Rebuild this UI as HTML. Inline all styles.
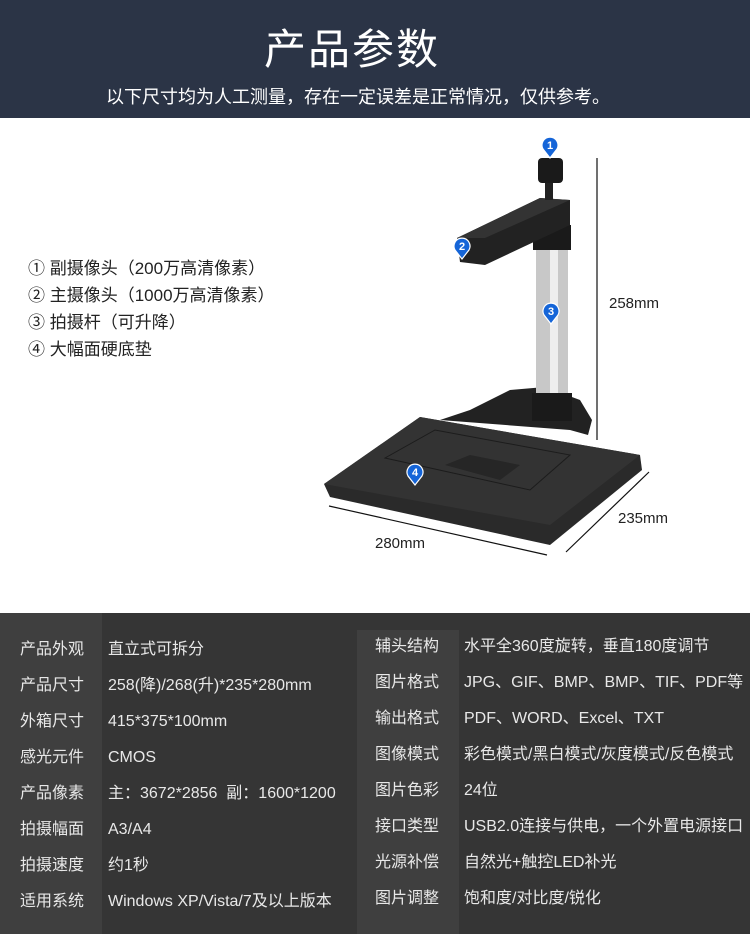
<!DOCTYPE html>
<html><head><meta charset="utf-8"><style>
body{margin:0;width:750px;height:934px;overflow:hidden;background:#fff;font-family:"Liberation Sans","Noto Sans CJK SC",sans-serif;position:relative}
.hd{position:absolute;left:0;top:0;width:750px;height:118px;background:#2b3446;color:#fff}
.t{position:absolute;left:0;width:704px;text-align:center;top:16px;font-size:42px;letter-spacing:2px}
.s{position:absolute;left:0;width:716px;text-align:center;top:83px;font-size:18px}
.f{position:absolute;left:28px;font-size:17px;color:#222}
.dim{position:absolute;font-size:15px;color:#222}
.tb{position:absolute;left:0;top:613px;width:750px;height:321px;background:#353535}
.c{position:absolute;background:#3f3f3f}
.r{position:absolute;font-size:16px;color:#e8e8e8;white-space:nowrap;line-height:20px;height:20px}
</style></head><body>
<div class="hd"><div class="t">产品参数</div><div class="s">以下尺寸均为人工测量，存在一定误差是正常情况，仅供参考。</div></div>
<div class="f" style="top:254px">① 副摄像头（200万高清像素）</div>
<div class="f" style="top:281px">② 主摄像头（1000万高清像素）</div>
<div class="f" style="top:308px">③ 拍摄杆（可升降）</div>
<div class="f" style="top:335px">④ 大幅面硬底垫</div>
<svg style="position:absolute;left:0;top:0" width="750" height="612">
<line x1="597" y1="158" x2="597" y2="440" stroke="#111" stroke-width="1.2"/>
<line x1="329" y1="506" x2="547" y2="555" stroke="#111" stroke-width="1.2"/>
<line x1="566" y1="552" x2="649" y2="472" stroke="#111" stroke-width="1.2"/>
<path d="M440,420 L470,410 L510,390 L545,387 L580,400 L592,420 L588,435 L570,430 Z" fill="#222"/>
<path d="M324,484 L420,417 L640,455 L642,470 L550,545 L330,497 Z" fill="#2a2a2a"/>
<path d="M324,484 L420,417 L640,455 L550,525 Z" fill="#333"/>
<path d="M385,458 L435,430 L570,455 L530,490 Z" fill="none" stroke="#1c1c1c"/>
<path d="M445,465 L470,455 L520,465 L500,480 Z" fill="#262626"/>
<rect x="536" y="240" width="32" height="160" fill="#c8c8c8"/>
<rect x="550" y="240" width="8" height="160" fill="#eee"/>
<rect x="532" y="393" width="40" height="28" fill="#1a1a1a"/>
<rect x="533" y="225" width="38" height="25" fill="#1a1a1a"/>
<path d="M457,238 L540,198 L570,200 L570,225 L485,265 L460,262 Z" fill="#222"/>
<path d="M457,238 L540,198 L570,200 L485,238 Z" fill="#333"/>
<rect x="545" y="180" width="8" height="20" fill="#222"/>
<rect x="538" y="158" width="25" height="25" rx="4" fill="#1a1a1a"/>
<g fill="#1565d8" stroke="#fff" stroke-width="1.2">
<path d="M550,158 l-7,-9 a8,8 0 1,1 14,0 z"/><path d="M462,259 l-7,-9 a8,8 0 1,1 14,0 z"/>
<path d="M551,324 l-7,-9 a8,8 0 1,1 14,0 z"/><path d="M415,485 l-7,-9 a8,8 0 1,1 14,0 z"/></g>
<g fill="#fff" font-size="11" font-weight="bold" text-anchor="middle" font-family="Liberation Sans">
<text x="550" y="149">1</text><text x="462" y="250">2</text><text x="551" y="315">3</text><text x="415" y="476">4</text></g>
</svg>
<div class="dim" style="left:609px;top:295px">258mm</div>
<div class="dim" style="left:618px;top:510px">235mm</div>
<div class="dim" style="left:375px;top:535px">280mm</div>
<div class="tb">
<div class="c" style="left:0;top:0;width:102px;height:321px"></div>
<div class="c" style="left:357px;top:17px;width:102px;height:304px"></div>
</div>
<div class="r" style="left:20px;top:640px">产品外观</div><div class="r" style="left:108px;top:640px">直立式可拆分</div>
<div class="r" style="left:20px;top:676px">产品尺寸</div><div class="r" style="left:108px;top:676px">258(降)/268(升)*235*280mm</div>
<div class="r" style="left:20px;top:712px">外箱尺寸</div><div class="r" style="left:108px;top:712px">415*375*100mm</div>
<div class="r" style="left:20px;top:748px">感光元件</div><div class="r" style="left:108px;top:748px">CMOS</div>
<div class="r" style="left:20px;top:784px">产品像素</div><div class="r" style="left:108px;top:784px">主：3672*2856&nbsp; 副：1600*1200</div>
<div class="r" style="left:20px;top:820px">拍摄幅面</div><div class="r" style="left:108px;top:820px">A3/A4</div>
<div class="r" style="left:20px;top:856px">拍摄速度</div><div class="r" style="left:108px;top:856px">约1秒</div>
<div class="r" style="left:20px;top:892px">适用系统</div><div class="r" style="left:108px;top:892px">Windows XP/Vista/7及以上版本</div>
<div class="r" style="left:375px;top:637px">辅头结构</div><div class="r" style="left:464px;top:637px">水平全360度旋转，垂直180度调节</div>
<div class="r" style="left:375px;top:673px">图片格式</div><div class="r" style="left:464px;top:673px">JPG、GIF、BMP、BMP、TIF、PDF等</div>
<div class="r" style="left:375px;top:709px">输出格式</div><div class="r" style="left:464px;top:709px">PDF、WORD、Excel、TXT</div>
<div class="r" style="left:375px;top:745px">图像模式</div><div class="r" style="left:464px;top:745px">彩色模式/黑白模式/灰度模式/反色模式</div>
<div class="r" style="left:375px;top:781px">图片色彩</div><div class="r" style="left:464px;top:781px">24位</div>
<div class="r" style="left:375px;top:817px">接口类型</div><div class="r" style="left:464px;top:817px">USB2.0连接与供电，一个外置电源接口</div>
<div class="r" style="left:375px;top:853px">光源补偿</div><div class="r" style="left:464px;top:853px">自然光+触控LED补光</div>
<div class="r" style="left:375px;top:889px">图片调整</div><div class="r" style="left:464px;top:889px">饱和度/对比度/锐化</div>
</body></html>
